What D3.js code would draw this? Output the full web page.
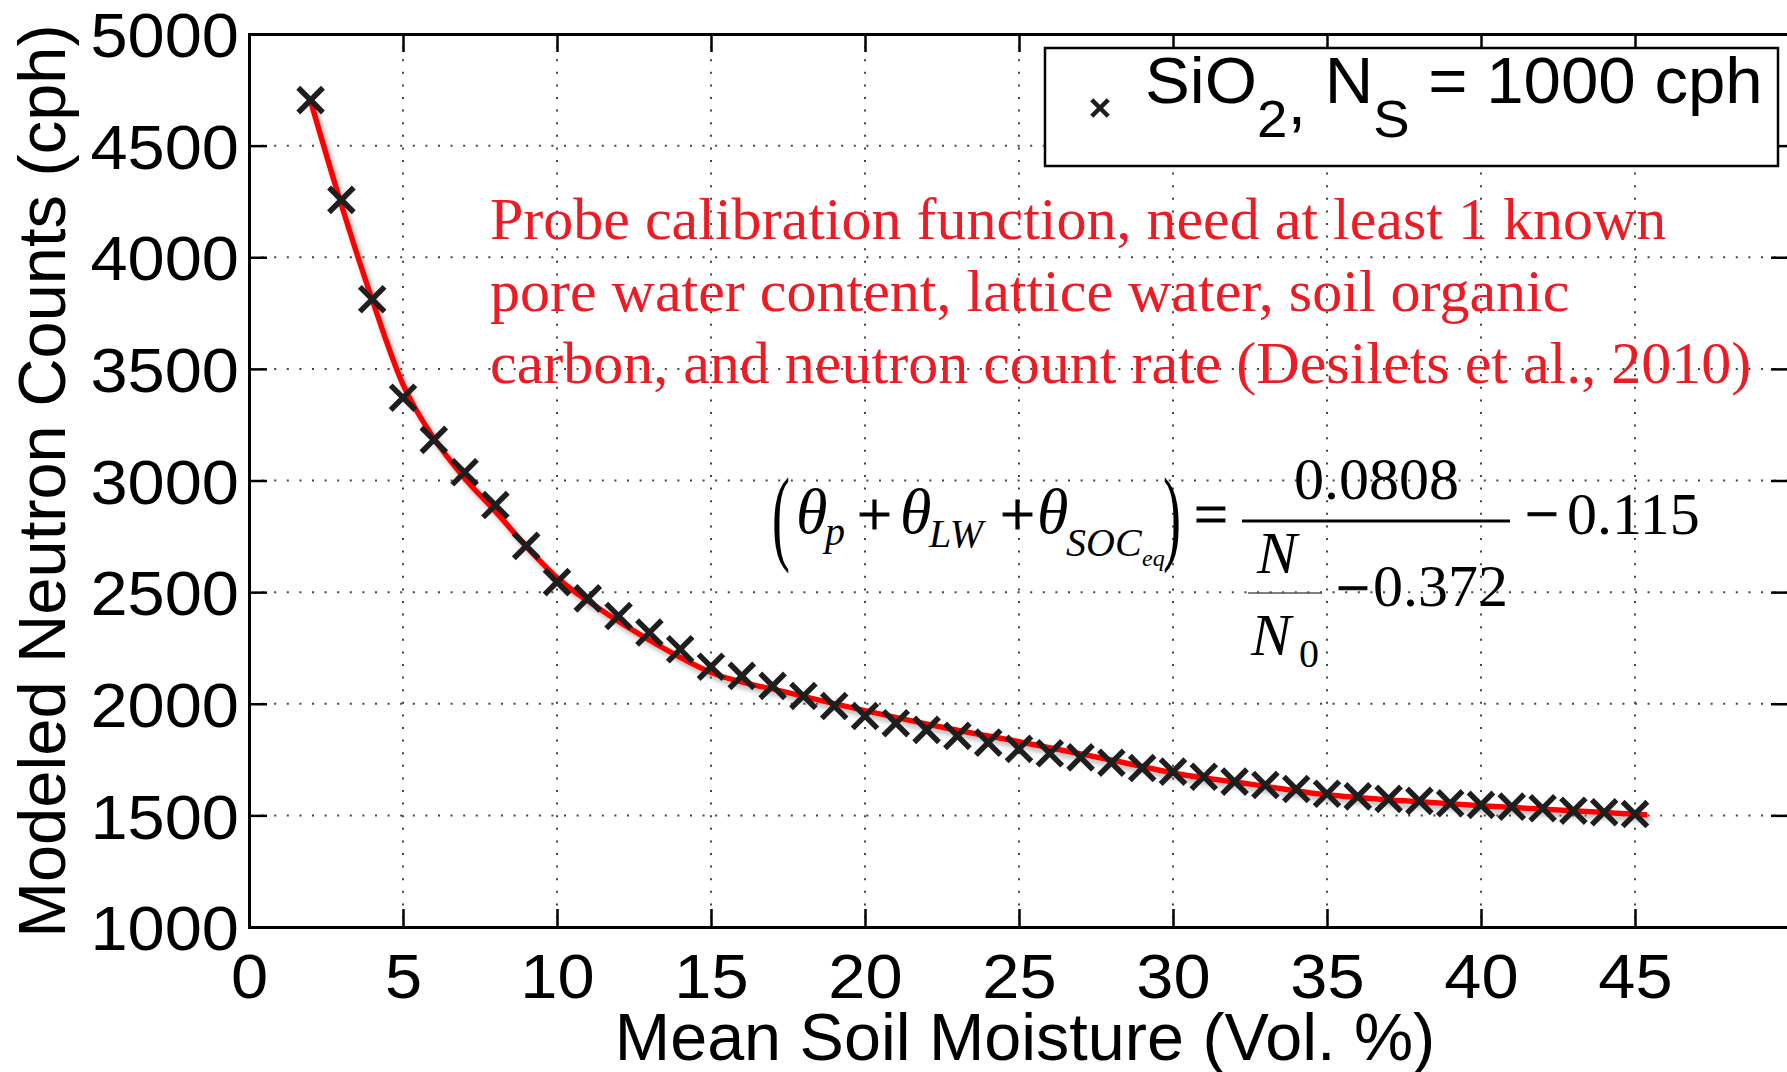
<!DOCTYPE html>
<html>
<head>
<meta charset="utf-8">
<script src="https://cdn.jsdelivr.net/npm/d3@7"></script>
<style>
  html, body { margin: 0; padding: 0; background: #fff; overflow: hidden; }
  .sans { font-family: "Liberation Sans", Arial, Helvetica, sans-serif; }
  .serif { font-family: "Liberation Serif", "Times New Roman", serif; }
</style>
</head>
<body>
<div id="chart"></div>
<script>
// modeled points (SiO2, Ns = 1000 cph)
var moisture = [2,3,4,5,6,7,8,9,10,11,12,13,14,15,16,17,18,19,20,21,22,23,
                24,25,26,27,28,29,30,31,32,33,34,35,36,37,38,39,40,41,42,43,44,45];
var counts = [4704,4257,3812,3371,3182,3037,2890,2707,2545,2472,2393,2319,2244,2166,
              2125,2080,2035,1990,1945,1913,1883,1856,1826,1798,1778,1760,1736,1712,
              1696,1673,1651,1636,1618,1597,1585,1574,1565,1554,1547,1539,1532,1521,1514,1506];

// calibration function
var fitMoisture = [2,3,4,5,6,7,8,9,10,11.4,13,15,17.5,20,22.5,25,28,30,32.5,35,37.5,40,42.5,45.4];
var fitCounts = [4700,4235,3810,3430,3190,3010,2862,2705,2565,2423,2285,2140,2050,1969,
                 1895,1830,1748,1690,1640,1592,1565,1543,1524,1502];

var xTicks = [0,5,10,15,20,25,30,35,40,45,50];
var xLabels = ["0","5","10","15","20","25","30","35","40","45",""];
var yTicks = [1000,1500,2000,2500,3000,3500,4000,4500,5000];

var xTitle = "Mean Soil Moisture (Vol. %)";
var yTitle = "Modeled Neutron Counts (cph)";
var noteLines = ["Probe calibration function, need at least 1 known",
                 "pore water content, lattice water, soil organic",
                 "carbon, and neutron count rate (Desilets et al., 2010)"];

var W = 1787, H = 1072;
var x = d3.scaleLinear().domain([0, 50]).range([249, 1789]);
var y = d3.scaleLinear().domain([1000, 5000]).range([927, 34]);

var svg = d3.select("#chart").append("svg")
            .attr("width", W).attr("height", H);

var defs = svg.append("defs");
var f = defs.append("filter").attr("id", "shadow")
            .attr("x", "-10%").attr("y", "-10%").attr("width", "130%").attr("height", "130%");
f.append("feDropShadow").attr("dx", 3).attr("dy", 4).attr("stdDeviation", 2.5)
  .attr("flood-color", "#777").attr("flood-opacity", 0.55);

// grid (dotted)
var grid = svg.append("g").attr("class", "grid");
grid.selectAll("line.gx").data(xTicks.slice(1, -1)).enter().append("line")
    .attr("x1", function(d){ return x(d); }).attr("x2", function(d){ return x(d); })
    .attr("y1", y(5000)).attr("y2", y(1000));
grid.selectAll("line.gy").data(yTicks.slice(1, -1)).enter().append("line")
    .attr("x1", x(0)).attr("x2", x(50))
    .attr("y1", function(d){ return y(d); }).attr("y2", function(d){ return y(d); });
grid.selectAll("line")
    .attr("stroke", "#444").attr("stroke-width", 2)
    .attr("stroke-dasharray", "2,10.6");

// axes, ticks inward, mirrored on top and right
var tickLen = 18;
var axB = svg.append("g").attr("transform", "translate(0," + y(1000) + ")")
             .call(d3.axisBottom(x).tickValues(xTicks).tickSize(-tickLen)
                     .tickFormat(function(d, i){ return xLabels[i]; }));
var axT = svg.append("g").attr("transform", "translate(0," + y(5000) + ")")
             .call(d3.axisTop(x).tickValues(xTicks).tickSize(-tickLen).tickFormat(""));
var axL = svg.append("g").attr("transform", "translate(" + x(0) + ",0)")
             .call(d3.axisLeft(y).tickValues(yTicks).tickSize(-tickLen)
                     .tickFormat(d3.format("d")));
var axR = svg.append("g").attr("transform", "translate(" + x(50) + ",0)")
             .call(d3.axisRight(y).tickValues(yTicks).tickSize(-tickLen).tickFormat(""));

[axB, axT, axL, axR].forEach(function(g){
  g.select(".domain").attr("stroke", "#000").attr("stroke-width", 3);
  g.selectAll(".tick line").attr("stroke", "#000").attr("stroke-width", 2.5);
});
[axB, axL].forEach(function(g){
  g.selectAll(".tick text").attr("class", "sans")
    .attr("font-size", 63).attr("fill", "#000");
});
// labels a bit wider than the font, as in the original export
axB.selectAll(".tick text").attr("dy", null).attr("x", 0).attr("y", 0)
   .attr("transform", "translate(0,71) scale(1.06,1)");
axL.selectAll(".tick text").attr("dy", "0.36em").attr("x", 0)
   .attr("transform", "translate(-10,0) scale(1.06,1)");

// fitted curve
var line = d3.line()
             .x(function(d){ return x(d[0]); })
             .y(function(d){ return y(d[1]); })
             .curve(d3.curveMonotoneX);
svg.append("path")
   .datum(d3.zip(fitMoisture, fitCounts))
   .attr("d", line)
   .attr("fill", "none")
   .attr("stroke", "#ff0000")
   .attr("stroke-width", 5.5)
   .attr("filter", "url(#shadow)");

// markers
var cross = d3.symbol().type(d3.symbolX).size(400);
svg.append("g").selectAll("path")
   .data(d3.zip(moisture, counts)).enter().append("path")
   .attr("d", cross)
   .attr("transform", function(d){ return "translate(" + x(d[0]) + "," + y(d[1]) + ")"; })
   .attr("fill", "none")
   .attr("stroke", "#1e1e1e")
   .attr("stroke-width", 5.5);

// axis titles
svg.append("text").attr("class", "sans")
   .attr("x", 1025).attr("y", 1060)
   .attr("text-anchor", "middle").attr("font-size", 66.5)
   .text(xTitle);
svg.append("text").attr("class", "sans")
   .attr("transform", "translate(65,481) rotate(-90)")
   .attr("text-anchor", "middle").attr("font-size", 66.8)
   .text(yTitle);

// legend
var lg = svg.append("g");
lg.append("rect").attr("x", 1045).attr("y", 48).attr("width", 733).attr("height", 118)
  .attr("fill", "#fff").attr("stroke", "#000").attr("stroke-width", 2.5);
lg.append("path").attr("d", d3.symbol().type(d3.symbolX).size(180))
  .attr("transform", "translate(1100,108)")
  .attr("fill", "none").attr("stroke", "#1e1e1e").attr("stroke-width", 4.5);
var lt = lg.append("text").attr("class", "sans")
           .attr("transform", "translate(1145,103) scale(1.05,1)")
           .attr("font-size", 64);
lt.append("tspan").text("SiO");
lt.append("tspan").attr("dy", 34).attr("font-size", 52).text("2");
lt.append("tspan").attr("dy", -13).text(",");
lt.append("tspan").attr("dy", -21).text(" N");
lt.append("tspan").attr("dy", 34).attr("font-size", 52).text("S");
lt.append("tspan").attr("dy", -34).text(" = 1000 cph");

// red annotation
var note = svg.append("text").attr("class", "serif")
              .attr("font-size", 60).attr("fill", "#ed1c24");
noteLines.forEach(function(s, i){
  note.append("tspan").attr("x", 490).attr("y", 239 + i * 72).text(s);
});

// equation
var eq = svg.append("g").attr("class", "serif").attr("fill", "#000");
function t(xp, yp, size, str, italic){
  return eq.append("text").attr("x", xp).attr("y", yp).attr("font-size", size)
           .attr("font-style", italic ? "italic" : "normal").text(str);
}
// tall thin brackets
eq.append("text").attr("transform", "translate(772,551) scale(0.9,1.75)")
  .attr("font-size", 60).text("(");
eq.append("text").attr("transform", "translate(1163,551) scale(0.9,1.75)")
  .attr("font-size", 60).text(")");
t(796, 533, 64, "\u03b8", true);
t(825, 545, 40, "p", true);
t(857, 535, 62, "+", false).attr("stroke", "#000").attr("stroke-width", 1);
t(900, 533, 64, "\u03b8", true);
t(929, 547, 40, "LW", true);
t(1000, 535, 62, "+", false).attr("stroke", "#000").attr("stroke-width", 1);
t(1037, 533, 64, "\u03b8", true);
t(1066, 556, 40, "SOC", true);
t(1142, 566, 24, "eq", true);
t(1194, 534, 60, "=", false).attr("stroke", "#000").attr("stroke-width", 1);
eq.append("line").attr("x1", 1242).attr("x2", 1510).attr("y1", 521).attr("y2", 521)
  .attr("stroke", "#000").attr("stroke-width", 3);
t(1294, 499, 60, "0.0808", false);
t(1525, 534, 60, "\u2212", false).attr("stroke", "#000").attr("stroke-width", 1);
t(1567, 534, 60, "0.115", false);
t(1257, 573, 60, "N", true);
eq.append("line").attr("x1", 1248).attr("x2", 1322).attr("y1", 593).attr("y2", 593)
  .attr("stroke", "#555").attr("stroke-width", 1.5);
t(1336, 608, 60, "\u2212", false).attr("stroke", "#000").attr("stroke-width", 1);
t(1373, 606, 60, "0.372", false);
t(1251, 655, 60, "N", true);
t(1299, 667, 40, "0", false);
</script>
</body>
</html>
